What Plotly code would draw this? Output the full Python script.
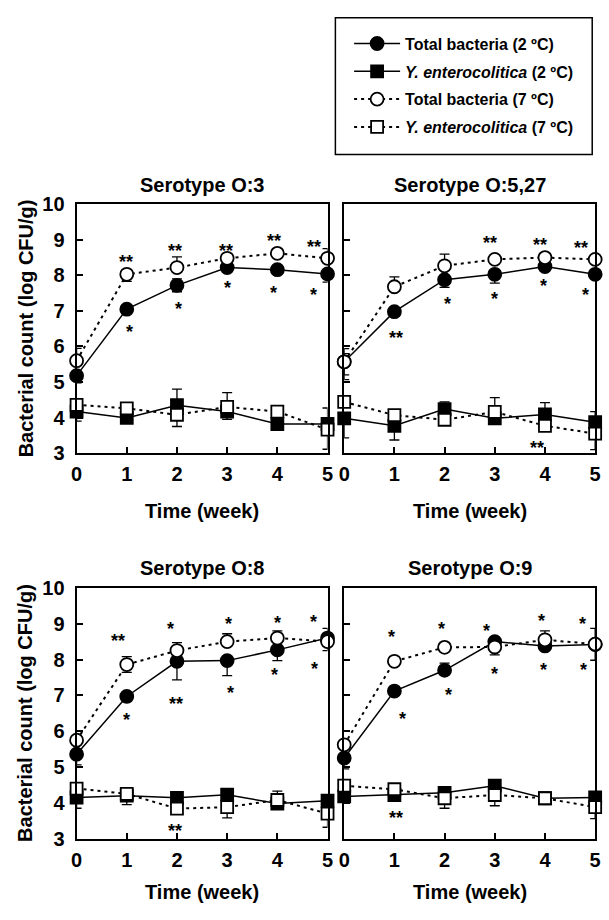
import plotly.graph_objects as go

W, H = 609, 920

weeks = [0, 1, 2, 3, 4, 5]
x_ticks = [0, 1, 2, 3, 4, 5]
y_ticks = [3, 4, 5, 6, 7, 8, 9, 10]

panel_titles = ["Serotype O:3", "Serotype O:5,27", "Serotype O:8", "Serotype O:9"]
series_names = ["Total bacteria (2 ºC)", "<i>Y. enterocolitica</i> (2 ºC)",
                "Total bacteria (7 ºC)", "<i>Y. enterocolitica</i> (7 ºC)"]

# ---- Serotype O:3 ----
o3_total_2 = [5.18, 7.05, 7.72, 8.22, 8.16, 8.04]
o3_yent_2 = [4.17, 3.99, 4.35, 4.17, 3.82, 3.82]
o3_total_7 = [5.60, 8.03, 8.22, 8.48, 8.62, 8.48]
o3_yent_7 = [4.36, 4.26, 4.08, 4.30, 4.17, 3.66]
o3_total_2_up = [0, 0, 0.18, 0, 0, 0]
o3_total_2_dn = [0.2, 0, 0.18, 0, 0, 0.23]
o3_yent_2_up = [0, 0, 0.45, 0, 0, 0.45]
o3_yent_2_dn = [0.27, 0, 0, 0.22, 0, 0]
o3_total_7_up = [0.35, 0, 0.3, 0, 0, 0.27]
o3_total_7_dn = [0, 0.2, 0, 0, 0, 0]
o3_yent_7_up = [0, 0, 0, 0.4, 0, 0]
o3_yent_7_dn = [0, 0, 0.33, 0, 0, 0.55]
o3_sig_x = [0.98, 1.96, 2.97, 3.94, 4.74, 1.05, 2.03, 3.0, 3.92, 4.73]
o3_sig_y = [8.48, 8.8, 8.8, 9.07, 8.9, 6.53, 7.16, 7.75, 7.62, 7.55]
o3_sig_t = ["**", "**", "**", "**", "**", "*", "*", "*", "*", "*"]

# ---- Serotype O:5,27 ----
o527_total_2 = [5.57, 6.98, 7.88, 8.03, 8.25, 8.03]
o527_yent_2 = [3.98, 3.77, 4.24, 3.98, 4.09, 3.87]
o527_total_7 = [5.57, 7.68, 8.27, 8.45, 8.50, 8.45]
o527_yent_7 = [4.44, 4.07, 3.94, 4.16, 3.77, 3.55]
o527_total_2_up = [0.23, 0, 0, 0, 0, 0]
o527_total_2_dn = [0.5, 0, 0.22, 0.25, 0, 0]
o527_yent_2_up = [0, 0, 0.2, 0, 0.33, 0.3]
o527_yent_2_dn = [0.55, 0.4, 0, 0, 0, 0]
o527_total_7_up = [0.37, 0.28, 0.33, 0, 0, 0]
o527_total_7_dn = [0.37, 0, 0, 0, 0, 0]
o527_yent_7_up = [0, 0, 0, 0.4, 0, 0]
o527_yent_7_dn = [0, 0, 0, 0, 0, 0.45]
o527_sig_x = [1.03, 2.06, 3.0, 3.97, 4.8, 2.9, 3.9, 4.71, 3.85]
o527_sig_y = [6.35, 7.3, 7.45, 7.8, 7.55, 9.03, 8.96, 8.87, 3.25]
o527_sig_t = ["**", "*", "*", "*", "*", "**", "**", "**", "**"]

# ---- Serotype O:8 ----
o8_total_2 = [5.36, 6.97, 7.95, 7.97, 8.27, 8.60]
o8_yent_2 = [4.15, 4.20, 4.14, 4.23, 3.98, 4.06]
o8_total_7 = [5.75, 7.86, 8.25, 8.50, 8.60, 8.50]
o8_yent_7 = [4.40, 4.25, 3.84, 3.88, 4.08, 3.70]
o8_total_2_up = [0, 0, 0, 0, 0, 0.27]
o8_total_2_dn = [0.3, 0, 0.52, 0.42, 0.3, 0]
o8_yent_2_up = [0, 0, 0, 0, 0, 0]
o8_yent_2_dn = [0.3, 0.25, 0, 0, 0, 0]
o8_total_7_up = [0, 0.22, 0.22, 0.22, 0.2, 0]
o8_total_7_dn = [0, 0.22, 0, 0, 0, 0.25]
o8_yent_7_up = [0, 0, 0, 0, 0.25, 0]
o8_yent_7_dn = [0, 0, 0, 0.3, 0, 0.38]
o8_sig_x = [0.82, 1.0, 1.88, 1.98, 3.02, 3.07, 4.0, 3.95, 4.72, 4.74, 1.96]
o8_sig_y = [8.64, 6.43, 8.95, 6.86, 9.09, 7.18, 9.14, 7.68, 9.15, 7.85, 3.34]
o8_sig_t = ["**", "*", "*", "**", "*", "*", "*", "*", "*", "*", "**"]

# ---- Serotype O:9 ----
o9_total_2 = [5.25, 7.12, 7.70, 8.50, 8.38, 8.42]
o9_yent_2 = [4.18, 4.22, 4.28, 4.48, 4.13, 4.15]
o9_total_7 = [5.62, 7.95, 8.34, 8.35, 8.55, 8.43]
o9_yent_7 = [4.48, 4.38, 4.13, 4.22, 4.13, 3.88]
o9_total_2_up = [0, 0, 0.2, 0, 0, 0.45]
o9_total_2_dn = [0.3, 0, 0, 0, 0, 0]
o9_yent_2_up = [0, 0, 0, 0, 0, 0]
o9_yent_2_dn = [0, 0, 0, 0, 0, 0]
o9_total_7_up = [0, 0, 0, 0, 0.25, 0]
o9_total_7_dn = [0, 0, 0, 0.22, 0, 0.45]
o9_yent_7_up = [0, 0, 0, 0, 0, 0]
o9_yent_7_dn = [0, 0, 0.28, 0.3, 0, 0.32]
o9_sig_x = [0.95, 1.16, 1.94, 2.07, 2.84, 2.99, 3.94, 3.97, 4.74, 4.76, 1.03]
o9_sig_y = [8.73, 6.44, 8.97, 7.12, 8.91, 7.7, 9.2, 7.82, 9.11, 7.82, 3.68]
o9_sig_t = ["*", "*", "*", "*", "*", "*", "*", "*", "*", "*", "**"]

panels = [
    dict(series=[(o3_total_2, o3_total_2_up, o3_total_2_dn), (o3_yent_2, o3_yent_2_up, o3_yent_2_dn),
                 (o3_total_7, o3_total_7_up, o3_total_7_dn), (o3_yent_7, o3_yent_7_up, o3_yent_7_dn)],
         sig=(o3_sig_x, o3_sig_y, o3_sig_t)),
    dict(series=[(o527_total_2, o527_total_2_up, o527_total_2_dn), (o527_yent_2, o527_yent_2_up, o527_yent_2_dn),
                 (o527_total_7, o527_total_7_up, o527_total_7_dn), (o527_yent_7, o527_yent_7_up, o527_yent_7_dn)],
         sig=(o527_sig_x, o527_sig_y, o527_sig_t)),
    dict(series=[(o8_total_2, o8_total_2_up, o8_total_2_dn), (o8_yent_2, o8_yent_2_up, o8_yent_2_dn),
                 (o8_total_7, o8_total_7_up, o8_total_7_dn), (o8_yent_7, o8_yent_7_up, o8_yent_7_dn)],
         sig=(o8_sig_x, o8_sig_y, o8_sig_t)),
    dict(series=[(o9_total_2, o9_total_2_up, o9_total_2_dn), (o9_yent_2, o9_yent_2_up, o9_yent_2_dn),
                 (o9_total_7, o9_total_7_up, o9_total_7_dn), (o9_yent_7, o9_yent_7_up, o9_yent_7_dn)],
         sig=(o9_sig_x, o9_sig_y, o9_sig_t)),
]

FONT = "Liberation Sans, Arial, Helvetica, sans-serif"

# panel pixel boxes (left, right, top, bottom)
boxes = [(72, 328, 198, 453), (345, 601, 198, 453), (72, 328, 591, 848), (345, 601, 591, 848)]
xtitle_gap = [59, 59, 55, 55]

styles = [
    dict(symbol="circle", fill="black", dash="solid", lw=1.5),
    dict(symbol="square", fill="black", dash="solid", lw=1.5),
    dict(symbol="circle", fill="white", dash="3px,4px", lw=2),
    dict(symbol="square", fill="white", dash="3px,4px", lw=2),
]

fig = go.Figure()
layout = dict()
for p, (panel, box) in enumerate(zip(panels, boxes)):
    sfx = "" if p == 0 else str(p + 1)
    xa, ya = "x" + sfx, "y" + sfx
    for s, ((vals, up, dn), st) in enumerate(zip(panel["series"], styles)):
        fig.add_trace(go.Scatter(
            x=weeks, y=vals, xaxis=xa, yaxis=ya,
            mode="lines+markers", name=series_names[s],
            legendgroup="g%d" % s, showlegend=(p == 0),
            line=dict(color="black", width=st["lw"], dash=st["dash"]),
            marker=dict(symbol=st["symbol"], size=13 if st["symbol"] == "circle" else 12,
                        color=st["fill"], line=dict(color="black", width=1.8)),
            error_y=dict(type="data", symmetric=False, array=up, arrayminus=dn,
                         color="black", thickness=1.3, width=5),
            cliponaxis=False,
        ))
    l, r, t, b = box
    common = dict(showline=True, linecolor="black", linewidth=2, mirror=True,
                  ticks="inside", ticklen=6, tickwidth=1.5, tickcolor="black",
                  showgrid=False, zeroline=False,
                  tickfont=dict(family=FONT, size=20, color="black", weight="bold"))
    layout["xaxis" + sfx] = dict(common, domain=[l / W, r / W], range=[0, 5], tickvals=x_ticks,
                                 anchor=ya, ticklabelstandoff=2)
    layout["yaxis" + sfx] = dict(common, domain=[1 - b / H, 1 - t / H], range=[3, 10], tickvals=y_ticks,
                                 anchor=xa, showticklabels=(p % 2 == 0), ticklabelstandoff=6)

annotations = []
for p, (panel, box) in enumerate(zip(panels, boxes)):
    sfx = "" if p == 0 else str(p + 1)
    l, r, t, b = box
    sx, sy, stxt = panel["sig"]
    for xx, yy, tt in zip(sx, sy, stxt):
        annotations.append(dict(x=xx, y=yy, xref="x" + sfx, yref="y" + sfx, text=tt, showarrow=False,
                                font=dict(family=FONT, size=18, color="black", weight="bold"),
                                yshift=-4))
    annotations.append(dict(x=(l + r) / 2 / W, y=1 - (t - 20) / H, xref="paper", yref="paper",
                            text=panel_titles[p], showarrow=False, xanchor="center", yanchor="middle",
                            font=dict(family=FONT, size=20, color="black", weight="bold")))
    annotations.append(dict(x=(l + r) / 2 / W, y=1 - (b + xtitle_gap[p]) / H, xref="paper", yref="paper",
                            text="Time (week)", showarrow=False, xanchor="center", yanchor="middle",
                            font=dict(family=FONT, size=20, color="black", weight="bold")))
    if p % 2 == 0:
        annotations.append(dict(x=20 / W, y=1 - (t + b) / 2 / H, xref="paper", yref="paper",
                                text="Bacterial count (log CFU/g)", textangle=-90, showarrow=False,
                                xanchor="center", yanchor="middle",
                                font=dict(family=FONT, size=20, color="black", weight="bold")))

shapes = [dict(type="rect", xref="paper", yref="paper", x0=336 / W, x1=598 / W,
               y0=1 - 147 / H, y1=1 - 7 / H, line=dict(color="black", width=1.5))]

fig.update_layout(
    width=W, height=H, autosize=False,
    margin=dict(l=0, r=0, t=0, b=0),
    paper_bgcolor="white", plot_bgcolor="white",
    showlegend=True,
    legend=dict(x=350 / W, y=1 - 16 / H, xanchor="left", yanchor="top",
                bgcolor="rgba(0,0,0,0)", borderwidth=0, tracegroupgap=4, itemwidth=46,
                font=dict(family=FONT, size=16, color="black", weight="bold")),
    annotations=annotations, shapes=shapes,
    **layout,
)

fig.write_html("out.html", config={"displayModeBar": False},
               post_script="document.body.style.margin='0';document.body.style.padding='0';")
